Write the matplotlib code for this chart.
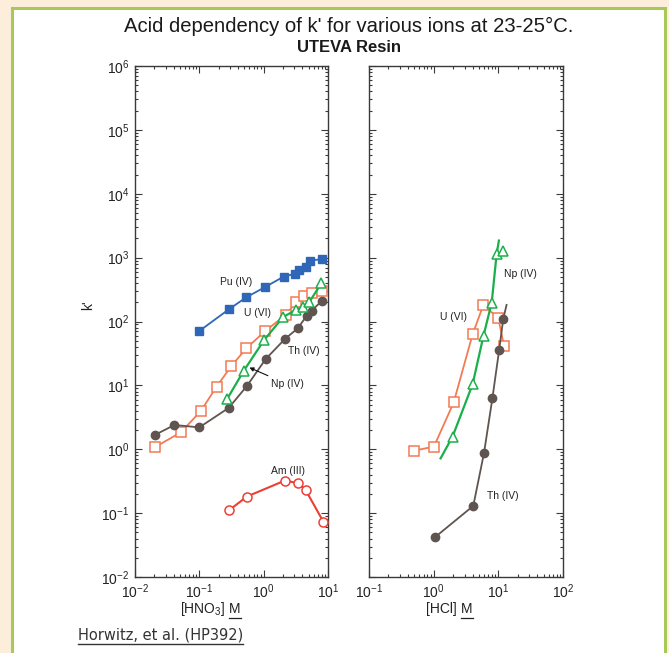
import matplotlib

matplotlib.use("Agg")

import matplotlib.pyplot as plt  # noqa: E402
import numpy as np  # noqa: E402
from matplotlib.lines import Line2D  # noqa: E402
from matplotlib.patches import Rectangle  # noqa: E402
from matplotlib.ticker import LogLocator, NullFormatter  # noqa: E402

plt.rcParams["font.family"] = ["Liberation Sans", "DejaVu Sans"]
plt.rcParams["mathtext.fontset"] = "custom"
plt.rcParams["mathtext.rm"] = "Liberation Sans"
plt.rcParams["mathtext.it"] = "Liberation Sans:italic"
plt.rcParams["mathtext.bf"] = "Liberation Sans:bold"
plt.rcParams["axes.unicode_minus"] = False

# ---- [HNO3] panel ----
pu_hno3_x = [0.10, 0.29, 0.54, 1.04, 2.05, 3.1, 3.5, 4.5, 5.2, 8.1]
pu_hno3_y = [71, 156, 240, 344, 505, 560, 640, 708, 900, 944]

u_hno3_x = [0.0205, 0.052, 0.106, 0.186, 0.316, 0.537, 1.04, 2.2, 3.2, 4.3, 5.6, 8.1]
u_hno3_y = [1.08, 1.85, 4.0, 9.6, 20.2, 38, 70, 127, 200, 250, 280, 300]

th_hno3_x = [0.0205, 0.041, 0.10, 0.287, 0.55, 1.07, 2.13, 3.4, 4.64, 5.56, 8.1]
th_hno3_y = [1.68, 2.4, 2.2, 4.45, 9.8, 25.7, 53, 78.5, 122, 147, 213]

np_hno3_x = [0.27, 0.49, 1.02, 2.0, 3.16, 4.1, 5.1, 7.9]
np_hno3_y = [6.1, 16.9, 51.5, 117, 152, 171, 200, 398]

am_hno3_x = [0.287, 0.55, 2.15, 3.39, 4.47, 8.5]
am_hno3_y = [0.110, 0.182, 0.324, 0.294, 0.232, 0.073]

# ---- [HCl] panel ----
u_hcl_x = [0.50, 1.01, 2.04, 4.0, 5.85, 10.0, 12.2]
u_hcl_y = [0.95, 1.1, 5.4, 63, 180, 113, 42]

np_hcl_x = [1.96, 4.0, 5.9, 7.9, 9.4, 11.7]
np_hcl_y = [1.58, 10.4, 60, 198, 1130, 1270]
# drawn curve runs a little past the measured points
np_hcl_curve_x = [1.28, 1.96, 4.0, 5.9, 7.9, 9.4, 10.2]
np_hcl_curve_y = [0.72, 1.58, 10.4, 60, 198, 1130, 1850]

th_hcl_x = [1.05, 4.1, 6.0, 8.1, 10.3, 11.9]
th_hcl_y = [0.042, 0.13, 0.87, 6.3, 36, 109]
th_hcl_curve_x = [1.05, 4.1, 6.0, 8.1, 10.3, 11.9, 13.4]
th_hcl_curve_y = [0.042, 0.13, 0.87, 6.3, 36, 109, 182]

# ---- styling ----
C_PU = "#2F66B8"
C_U = "#F27A55"
C_TH = "#5F544F"
C_NP = "#1BAF4C"
C_AM = "#EC3F36"
C_AXIS = "#3A3A3A"
C_TEXT = "#222222"


def style_axes(ax, xlim, show_ylabels):
    ax.set_xscale("log")
    ax.set_yscale("log")
    ax.set_xlim(*xlim)
    ax.set_ylim(1e-2, 1e6)
    ax.xaxis.set_major_locator(LogLocator(base=10, numticks=20))
    ax.yaxis.set_major_locator(LogLocator(base=10, numticks=20))
    for axis in (ax.xaxis, ax.yaxis):
        axis.set_minor_locator(LogLocator(base=10, subs=np.arange(2, 10), numticks=100))
        axis.set_minor_formatter(NullFormatter())
    ax.tick_params(which="both", direction="in", top=True, right=True,
                   colors=C_AXIS, labelcolor=C_TEXT, labelsize=10, width=0.8)
    ax.tick_params(which="major", length=5, pad=4)
    ax.tick_params(which="minor", length=2.5)
    if not show_ylabels:
        ax.tick_params(axis="y", labelleft=False)
    for sp in ax.spines.values():
        sp.set_color(C_AXIS)
        sp.set_linewidth(1.0)
    ax.set_facecolor("white")


def underline(fig, txt, lw=0.9, gap=2.0):
    """Draw a thin line under a text artist (pixel coords)."""
    bb = txt.get_window_extent(renderer=fig.canvas.get_renderer())
    inv = fig.transFigure.inverted()
    (x0, y0), (x1, _) = inv.transform([(bb.x0, bb.y0 - gap), (bb.x1, bb.y0 - gap)])
    fig.add_artist(Line2D([x0, x1], [y0, y0], color=txt.get_color(), lw=lw))


W, H = 669, 653
fig = plt.figure(figsize=(W / 100, H / 100), dpi=100, facecolor="#FDEEDB")

# white card with green border
fig.add_artist(Rectangle((12 / W, -0.02), (665 - 12) / W, 1.02 - 8 / H,
                         transform=fig.transFigure, facecolor="white",
                         edgecolor="#A8C95A", linewidth=2.2, zorder=0))

ax1 = fig.add_axes([135 / W, 76 / H, 193 / W, 511 / H])
ax2 = fig.add_axes([369 / W, 76 / H, 194 / W, 511 / H])
style_axes(ax1, (1e-2, 1e1), True)
style_axes(ax2, (1e-1, 1e2), False)

lw = 1.3
# HNO3
ax1.plot(u_hno3_x, u_hno3_y, color=C_U, lw=lw, marker="s", ms=6.5,
         mfc="white", mec=C_U, mew=1.1, zorder=3)
ax1.plot(th_hno3_x, th_hno3_y, color=C_TH, lw=lw, marker="o", ms=6,
         mfc=C_TH, mec=C_TH, zorder=4)
ax1.plot(np_hno3_x, np_hno3_y, color=C_NP, lw=lw + 0.3, marker="^", ms=7.5,
         mfc="white", mec=C_NP, mew=1.1, zorder=5)
ax1.plot(pu_hno3_x, pu_hno3_y, color=C_PU, lw=lw, marker="s", ms=6,
         mfc=C_PU, mec=C_PU, zorder=4)
ax1.plot(am_hno3_x, am_hno3_y, color=C_AM, lw=lw + 0.2, marker="o", ms=6.5,
         mfc="white", mec=C_AM, mew=1.1, zorder=4)

lab = dict(fontsize=7.5, color=C_TEXT, ha="center", va="center", zorder=6)
ax1.text(0.37, 420, "Pu (IV)", **lab)
ax1.text(0.81, 135, "U (VI)", **lab)
ax1.text(4.2, 35, "Th (IV)", **lab)
ax1.text(2.4, 0.46, "Am (III)", **lab)
ax1.annotate("Np (IV)", xy=(0.6, 19), xytext=(2.3, 10.5),
             arrowprops=dict(arrowstyle="-|>", color="#111111", lw=0.8,
                             mutation_scale=6, shrinkA=1, shrinkB=0),
             **lab)

# HCl
ax2.plot(u_hcl_x, u_hcl_y, color=C_U, lw=lw, marker="s", ms=6.5,
         mfc="white", mec=C_U, mew=1.1, zorder=3)
ax2.plot(th_hcl_curve_x, th_hcl_curve_y, color=C_TH, lw=lw, zorder=4)
ax2.plot(th_hcl_x, th_hcl_y, ls="none", marker="o", ms=6,
         mfc=C_TH, mec=C_TH, zorder=4)
ax2.plot(np_hcl_curve_x, np_hcl_curve_y, color=C_NP, lw=lw + 0.3, zorder=5)
ax2.plot(np_hcl_x, np_hcl_y, ls="none", marker="^", ms=7.5,
         mfc="white", mec=C_NP, mew=1.1, zorder=5)
ax2.text(21.6, 556, "Np (IV)", **lab)
ax2.text(2.0, 119, "U (VI)", **lab)
ax2.text(11.9, 0.186, "Th (IV)", **lab)

# axis labels
fig.text(88 / W, 1 - 305 / H, "k'", rotation=90, fontsize=10,
         ha="center", va="center", color=C_TEXT)
xl_kw = dict(fontsize=10, color=C_TEXT, va="center")
fig.text(225 / W, 1 - 609 / H, "[HNO$_3$]", ha="right", **xl_kw)
m1 = fig.text(229 / W, 1 - 609 / H, "M", ha="left", **xl_kw)
fig.text(457 / W, 1 - 609 / H, "[HCl]", ha="right", **xl_kw)
m2 = fig.text(461 / W, 1 - 609 / H, "M", ha="left", **xl_kw)

fig.text(349 / W, 1 - 26 / H, "Acid dependency of k' for various ions at 23-25°C.",
         fontsize=14.6, ha="center", va="center", color="#1A1A1A")
fig.text(349 / W, 1 - 47 / H, "UTEVA Resin", fontsize=12, fontweight="bold",
         ha="center", va="center", color="#1A1A1A")

ref = fig.text(78 / W, 1 - 635 / H, "Horwitz, et al. (HP392)", fontsize=10.5,
               ha="left", va="center", color="#333333",
               family=["DejaVu Sans"])

fig.canvas.draw()
underline(fig, m1)
underline(fig, m2)
underline(fig, ref, lw=1.0, gap=1.5)

fig.savefig("out.png", dpi=100, facecolor=fig.get_facecolor())
